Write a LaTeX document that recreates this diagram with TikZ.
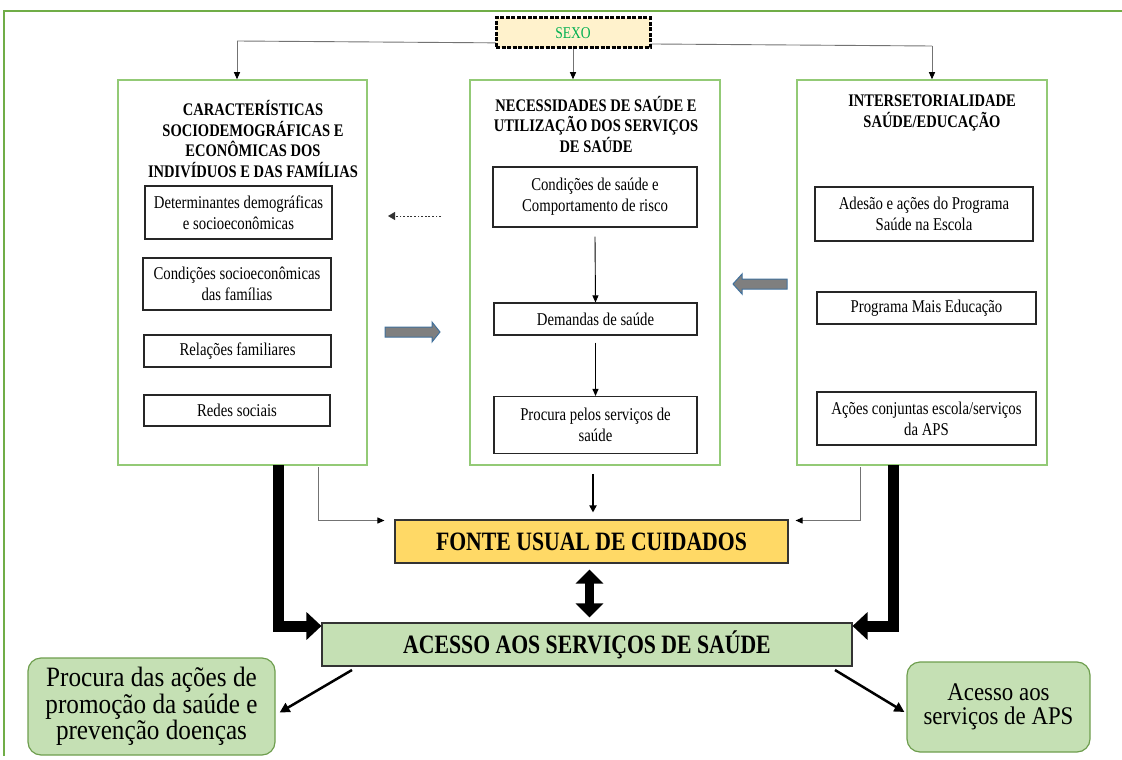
\documentclass[tikz,border=0pt]{standalone}
\usepackage{fontspec}
\setmainfont{Liberation Serif}[FakeStretch=0.82]
\newfontfamily\plainserif{Liberation Serif}[FakeStretch=0.9]
\usetikzlibrary{arrows.meta,calc}
\definecolor{framegreen}{HTML}{70AD47}
\definecolor{boxgreen}{HTML}{93CA76}
\definecolor{sexofill}{HTML}{FFF2CC}
\definecolor{sexotext}{HTML}{00B050}
\definecolor{fontefill}{HTML}{FFD966}
\definecolor{lightgreen}{HTML}{C5E0B4}
\definecolor{roundborder}{HTML}{6E9E4E}
\definecolor{blockfill}{HTML}{7F7F7F}
\definecolor{blockborder}{HTML}{41719C}
\tikzset{
  bigbox/.style={draw=boxgreen, line width=1.5pt, inner sep=0pt},
  inbox/.style={draw=black!85, line width=1.1pt, inner sep=0pt, align=center, font=\fontsize{18}{21}\selectfont},
  ttl/.style={align=center, inner sep=0pt, font=\bfseries\fontsize{17.7}{20.5}\selectfont},
  thinarrow/.style={draw=black!55, line width=0.9pt, -{Triangle[length=7pt,width=6pt,color=black]}},
  thinline/.style={draw=black!55, line width=0.9pt},
  bigarrow/.style={draw=black, line width=11pt, -{Triangle[length=15pt,width=27pt]}},
  diagarrow/.style={draw=black, line width=2.5pt, -{Triangle[length=10pt,width=10pt]}},
  roundbox/.style={draw=roundborder, fill=lightgreen, line width=1.2pt, rounded corners=13pt, inner sep=0pt, align=center},
  blockarrow/.style={draw=blockborder, fill=blockfill, line width=1pt, line join=miter}
}
\begin{document}
\begin{tikzpicture}[x=1pt,y=-1pt]
\useasboundingbox (0,0) rectangle (1122,760);
% frame
\draw[framegreen, line width=1.5pt] (4,756) -- (4,11) -- (1122,11);

% top connector line
\coordinate (tl) at (237,41);
\coordinate (tr) at (932,46);
\draw[thinline] (tl) -- (tr);

% SEXO
\node[draw=black, fill=sexofill, line width=3pt, dash pattern=on 4pt off 1.5pt,
      minimum width=154, minimum height=30, inner sep=0pt,
      text=sexotext, font=\fontsize{16.5}{18}\selectfont] (sexo) at (573,33) {SEXO};

% big boxes
\node[bigbox, minimum width=249, minimum height=385] (L) at (242.5,272.5) {};
\node[bigbox, minimum width=250, minimum height=385] (M) at (595,272.5) {};
\node[bigbox, minimum width=250, minimum height=385] (R) at (922,272.5) {};

\draw[thinarrow] (tl) -- (tl |- L.north);
\draw[thinarrow] (sexo.south) -- (sexo.south |- M.north);
\draw[thinarrow] (tr) -- (tr |- R.north);

% titles
\node[ttl] (Lt) at (253,139) {CARACTERÍSTICAS\\SOCIODEMOGRÁFICAS E\\ECONÔMICAS DOS\\INDIVÍDUOS E DAS FAMÍLIAS};
\node[ttl] (Mt) at (596,124) {NECESSIDADES DE SAÚDE E\\UTILIZAÇÃO DOS SERVIÇOS\\DE SAÚDE};
\node[ttl] (Rt) at (932,113) {INTERSETORIALIDADE\\SAÚDE/EDUCAÇÃO};

% left inner boxes
\node[inbox, minimum width=187, minimum height=53] (L1) at (238.5,212.5) {Determinantes demográficas\\e socioeconômicas};
\node[inbox, minimum width=188, minimum height=52] (L2) at (237,284) {Condições socioeconômicas\\das famílias};
\node[inbox, minimum width=187, minimum height=32] (L3) at (237.5,351) {Relações familiares};
\node[inbox, minimum width=186, minimum height=31] (L4) at (237,410.5) {Redes sociais};

% middle inner boxes
\node[inbox, minimum width=204, minimum height=60] (M1) at (595,197) {Condições de saúde e\\Comportamento de risco};
\node[inbox, minimum width=203, minimum height=32] (M2) at (595.5,319) {Demandas de saúde};
\node[inbox, minimum width=203, minimum height=57] (M3) at (595.5,425) {Procura pelos serviços de\\saúde};
\draw[draw=black, line width=0.9pt, -{Triangle[length=7pt,width=6pt]}] ($(M1.south)+(0,9)$) -- (M2.north);
\draw[draw=black, line width=0.9pt, -{Triangle[length=7pt,width=6pt]}] ($(M2.south)+(0,7)$) -- (M3.north);

% right inner boxes
\node[inbox, minimum width=218, minimum height=54] (R1) at (924,214) {Adesão e ações do Programa\\Saúde na Escola};
\node[inbox, minimum width=219, minimum height=32] (R2) at (926.5,308) {Programa Mais Educação};
\node[inbox, minimum width=219, minimum height=53] (R3) at (926.5,418.5) {Ações conjuntas escola/serviços\\da APS};

% dotted arrow (middle -> left)
\coordinate (ds) at (441,216);
\coordinate (de) at (388,216);
\draw[draw=black!80, line width=0.8pt, dash pattern=on 1.8pt off 1.8pt, -{Triangle[length=7pt,width=8pt]}] (ds) -- (de);

% block arrows
\draw[blockarrow] (385,327) -- (432,327) -- (432,322) -- (440,332) -- (432,342) -- (432,337) -- (385,337) -- cycle;
\draw[blockarrow] (787,279) -- (742,279) -- (742,274) -- (733,284) -- (742,294) -- (742,289) -- (787,289) -- cycle;

% bottom boxes
\node[draw=black!80, fill=fontefill, line width=1.1pt, minimum width=393, minimum height=43, inner sep=0pt,
      font=\bfseries\fontsize{26.5}{28}\selectfont] (fonte) at (591.5,541.5) {FONTE USUAL DE CUIDADOS};
\node[draw=black!80, fill=lightgreen, line width=1.1pt, minimum width=530, minimum height=43, inner sep=0pt,
      font=\bfseries\fontsize{26.5}{28}\selectfont] (acc) at (587,644.5) {ACESSO AOS SERVIÇOS DE SAÚDE};
\node[roundbox, minimum width=247, minimum height=97, font=\plainserif\fontsize{28}{26.5}\selectfont] (proc) at (151.5,706.5) {Procura das ações de\\promoção da saúde e\\prevenção doenças};
\node[roundbox, minimum width=183, minimum height=90, font=\plainserif\fontsize{25.4}{24.5}\selectfont] (aps) at (998.5,707) {Acesso aos\\serviços de APS};

% connectors into FONTE
\coordinate (lc) at (318,467);
\coordinate (rc) at (860,467);
\draw[thinarrow] (lc) |- ($(fonte.west)+(-10,-21)$);
\draw[thinarrow] (rc) |- ($(fonte.east)+(7,-21)$);
\draw[draw=black, line width=2pt, -{Triangle[length=7pt,width=7pt]}] ($(M.south)+(-2,8)$) -- ($(fonte.north)+(1.5,-7)$);

% double arrow
\draw[draw=black, line width=9pt, {Triangle[length=14pt,width=27pt]}-{Triangle[length=14pt,width=27pt]}] ($(fonte.south)+(-2,6)$) -- ($(acc.north)+(2.5,-5)$);

% big L arrows
\coordinate (bl) at (278,465);
\coordinate (br) at (893,465);
\draw[bigarrow, line join=miter] (bl) -- (278,626) -- (acc.west |- 0,626);
\draw[bigarrow, line join=miter] (br) -- (893,626) -- (acc.east |- 0,626);

% diagonal arrows
\coordinate (dls) at (352,670);
\coordinate (drs) at (835,670);
\draw[diagarrow] (dls) -- ($(proc.east)+(4,6)$);
\draw[diagarrow] (drs) -- ($(aps.west)+(-2,5)$);
\end{tikzpicture}
\end{document}
